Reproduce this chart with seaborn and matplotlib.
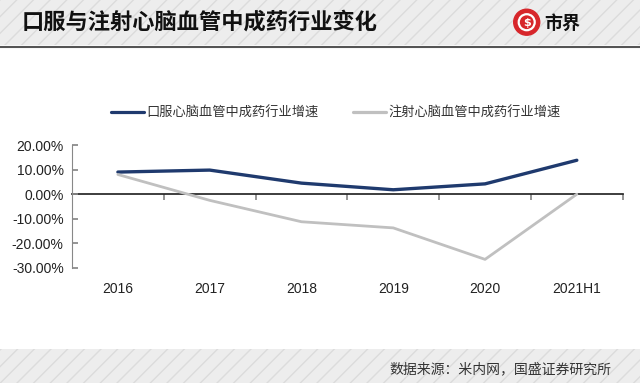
import matplotlib
matplotlib.use("Agg")
import matplotlib.pyplot as plt
from matplotlib.patches import Rectangle, Ellipse
import seaborn as sns
import pandas as pd

# data (growth rate, %)
periods = ["2016", "2017", "2018", "2019", "2020", "2021H1"]
oral_growth = [9.0, 9.8, 4.5, 1.8, 4.2, 13.8]
inject_growth = [8.0, -2.5, -11.2, -13.7, -26.5, 0.0]
series_names = ["口服心脑血管中成药行业增速", "注射心脑血管中成药行业增速"]
y_ticks = [-30, -20, -10, 0, 10, 20]

title = "口服与注射心脑血管中成药行业变化"
source = "数据来源：米内网，国盛证券研究所"

sns.set_theme(style="white")
plt.rcParams['font.family'] = ['Noto Sans CJK SC', 'DejaVu Sans']

df = pd.DataFrame({
    "period": periods * 2,
    "growth": oral_growth + inject_growth,
    "series": [series_names[0]] * len(periods) + [series_names[1]] * len(periods),
})

fig = plt.figure(figsize=(6.4, 3.83), dpi=100)
fig.patch.set_facecolor("white")

# striped header and footer bands
for y0, h in [(0.882, 0.118), (0.0, 0.088)]:
    fig.patches.append(Rectangle((0, y0), 1, h, transform=fig.transFigure,
                                 facecolor="#ededed", edgecolor="#dcdcdc",
                                 hatch="//", linewidth=0, zorder=0))
fig.add_artist(plt.Line2D([0, 1], [0.878, 0.878], transform=fig.transFigure,
                          color="#555555", linewidth=1.5))

fig.text(0.034, 0.943, title, fontsize=16, fontweight="bold", color="#111111",
         va="center", ha="left")
# logo
fig.patches.append(Ellipse((0.823, 0.942), 26 / 640, 26 / 383, transform=fig.transFigure,
                           facecolor="#d7262b", edgecolor="#d7262b", zorder=3))
fig.patches.append(Ellipse((0.823, 0.942), 16 / 640, 16 / 383, transform=fig.transFigure,
                           facecolor="none", edgecolor="white", linewidth=1.6, zorder=4))
fig.text(0.823, 0.940, "$", fontsize=8, fontweight="bold", color="white",
         ha="center", va="center", family="DejaVu Sans", zorder=5)
fig.text(0.851, 0.94, "市界", fontsize=13, fontweight="bold", color="#111111",
         ha="left", va="center")

fig.text(0.955, 0.036, source, fontsize=10, color="#333333", ha="right", va="center")

ax = fig.add_axes([0.1125, 0.3003, 0.8605, 0.3211])
palette = {series_names[0]: "#1f3a6e", series_names[1]: "#c0c0c0"}
sns.lineplot(data=df, x="period", y="growth", hue="series", palette=palette,
             ax=ax, linewidth=2.3, sort=False, legend=True)
for line, lw in zip(ax.get_lines(), [2.4, 2.0]):
    line.set_linewidth(lw)

ax.set_xlim(-0.5, len(periods) - 0.5)
ax.set_ylim(-30, 20)
ax.set_yticks(y_ticks)
ax.set_yticklabels([f"{v:.2f}%" for v in y_ticks], fontsize=10, color="#222222",
                   family=["Liberation Sans", "DejaVu Sans"])
ax.tick_params(axis="y", direction="in", length=4, color="#888888", pad=6, left=True)
ax.set_xticks(range(len(periods)))
ax.set_xticklabels(periods, fontsize=10, color="#222222",
                   family=["Liberation Sans", "DejaVu Sans"])
ax.tick_params(axis="x", length=0, pad=10)
ax.set_xlabel("")
ax.set_ylabel("")
for s in ["top", "right", "bottom"]:
    ax.spines[s].set_visible(False)
ax.spines["left"].set_color("#888888")
ax.spines["left"].set_linewidth(0.8)

# category axis line at zero with ticks between categories
zero_ax = ax.secondary_xaxis(30 / 50)
zero_ax.set_xticks([i + 0.5 for i in range(len(periods))])
zero_ax.set_xticklabels([])
zero_ax.tick_params(direction="in", length=4, color="#888888")
zero_ax.spines["bottom"].set_color("#666666")
zero_ax.spines["bottom"].set_linewidth(0.9)

handles, labels = ax.get_legend_handles_labels()
ax.get_legend().remove()
leg = fig.legend(handles, labels, loc="center", bbox_to_anchor=(0.525, 0.705),
                 ncol=2, frameon=False, fontsize=9.5, handlelength=2.5,
                 handletextpad=0.2, columnspacing=2.6)
for t in leg.get_texts():
    t.set_color("#333333")

fig.savefig("out.png", dpi=100)
